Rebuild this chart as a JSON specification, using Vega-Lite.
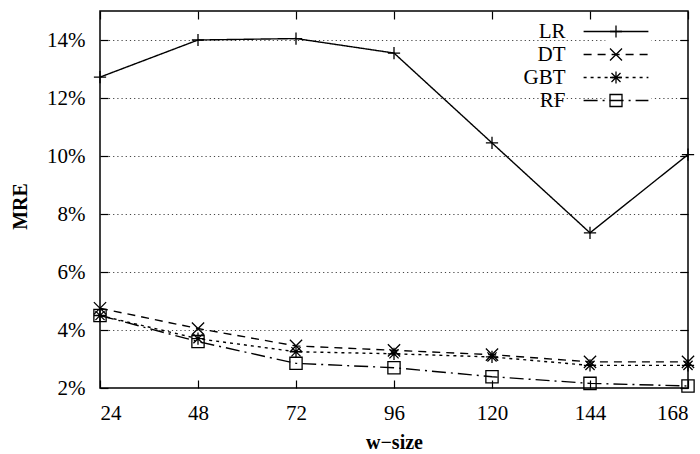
{
  "$schema": "https://vega.github.io/schema/vega-lite/v6.json",
  "width": 588,
  "height": 377,
  "autosize": "none",
  "padding": {"left": 100, "top": 11, "right": 12, "bottom": 66},
  "background": "white",
  "config": {
    "font": "Liberation Serif",
    "view": {"stroke": "black", "strokeWidth": 1.5},
    "axis": {
      "domain": false,
      "ticks": true,
      "labelFont": "Liberation Serif",
      "labelFontSize": 21,
      "labelColor": "black",
      "tickColor": "black",
      "tickWidth": 1.2,
      "tickSize": 8,
      "titleFont": "Liberation Serif",
      "titleFontSize": 20,
      "titleFontWeight": "bold",
      "titleColor": "black"
    }
  },
  "data": {
    "values": [
      {"series": "LR", "w": 24, "mre": 12.72},
      {"series": "LR", "w": 48, "mre": 14.0},
      {"series": "LR", "w": 72, "mre": 14.05},
      {"series": "LR", "w": 96, "mre": 13.55},
      {"series": "LR", "w": 120, "mre": 10.45},
      {"series": "LR", "w": 144, "mre": 7.35},
      {"series": "LR", "w": 168, "mre": 10.05},
      {"series": "DT", "w": 24, "mre": 4.75},
      {"series": "DT", "w": 48, "mre": 4.05},
      {"series": "DT", "w": 72, "mre": 3.45},
      {"series": "DT", "w": 96, "mre": 3.3},
      {"series": "DT", "w": 120, "mre": 3.15},
      {"series": "DT", "w": 144, "mre": 2.9},
      {"series": "DT", "w": 168, "mre": 2.9},
      {"series": "GBT", "w": 24, "mre": 4.5},
      {"series": "GBT", "w": 48, "mre": 3.7},
      {"series": "GBT", "w": 72, "mre": 3.25},
      {"series": "GBT", "w": 96, "mre": 3.18},
      {"series": "GBT", "w": 120, "mre": 3.07},
      {"series": "GBT", "w": 144, "mre": 2.78},
      {"series": "GBT", "w": 168, "mre": 2.78},
      {"series": "RF", "w": 24, "mre": 4.5},
      {"series": "RF", "w": 48, "mre": 3.6},
      {"series": "RF", "w": 72, "mre": 2.85},
      {"series": "RF", "w": 96, "mre": 2.7},
      {"series": "RF", "w": 120, "mre": 2.39},
      {"series": "RF", "w": 144, "mre": 2.16},
      {"series": "RF", "w": 168, "mre": 2.07}
    ]
  },
  "layer": [
    {
      "mark": {"type": "point", "opacity": 0},
      "encoding": {
        "x": {"field": "w", "type": "quantitative", "axis": null},
        "y": {"field": "mre", "type": "quantitative", "axis": {"orient": "left", "values": [4, 6, 8, 10, 12, 14], "labels": false, "ticks": false, "title": null, "grid": true, "gridColor": "#444", "gridDash": [1.2, 3], "gridWidth": 1}}
      }
    },
    {
      "mark": {"type": "line", "color": "black", "strokeWidth": 1.4},
      "encoding": {
        "x": {
          "field": "w", "type": "quantitative",
          "scale": {"domain": [24, 168], "nice": false, "zero": false},
          "axis": {"orient": "bottom", "offset": -8, "ticks": true, "values": [24, 48, 72, 96, 120, 144, 168], "title": "w\u2212size", "grid": false, "labelPadding": 14, "titleBaseline": "top", "titleY": 52}
        },
        "y": {
          "field": "mre", "type": "quantitative",
          "scale": {"domain": [2, 15], "nice": false, "zero": false},
          "axis": {"orient": "left", "offset": -8, "ticks": true, "values": [2, 4, 6, 8, 10, 12, 14], "labelExpr": "datum.value + '%'", "title": "MRE", "grid": false, "labelPadding": 15, "titleBaseline": "alphabetic", "titleX": -82, "titleY": 195}
        },
        "strokeDash": {
          "field": "series", "type": "nominal",
          "scale": {"domain": ["LR", "DT", "GBT", "RF"], "range": [[1, 0], [8, 6], [3, 4], [14, 5, 2, 5]]},
          "legend": {
            "orient": "none", "legendX": 505.5, "legendY": 10, "title": null,
            "symbolType": "M-5.4,0L5.4,0", "symbolSize": 144, "symbolStrokeColor": "black", "symbolStrokeWidth": 1.4,
            "labelAlign": "right", "labelOffset": -61, "labelFont": "Liberation Serif", "labelFontSize": 21, "labelColor": "black",
            "fillColor": "white", "padding": 0, "rowPadding": 1
          }
        }
      }
    },
    {
      "mark": {"type": "point", "filled": false, "stroke": "black", "strokeWidth": 1.3, "size": 150, "opacity": 1},
      "encoding": {
        "x": {"field": "w", "type": "quantitative", "axis": null},
        "y": {"field": "mre", "type": "quantitative", "axis": null},
        "shape": {
          "field": "series", "type": "nominal", "sort": ["LR", "DT", "GBT", "RF"],
          "scale": {"range": ["M-1,0L1,0M0,-1L0,1", "M-1,-1L1,1M-1,1L1,-1", "M-1,0L1,0M0,-1L0,1M-0.75,-0.75L0.75,0.75M-0.75,0.75L0.75,-0.75", "square"]},
          "legend": {
            "orient": "none", "legendX": 505.5, "legendY": 10, "title": null,
            "symbolSize": 144, "symbolStrokeColor": "black", "symbolStrokeWidth": 1.3, "symbolFillColor": "white",
            "labelExpr": "' '", "labelColor": "transparent", "labelFontSize": 21, "labelFont": "Liberation Serif",
            "padding": 0, "rowPadding": 1
          }
        }
      }
    },
    {
      "mark": {"type": "point", "opacity": 0},
      "encoding": {
        "x": {"field": "w", "type": "quantitative", "axis": {"orient": "top", "offset": -8, "ticks": true, "values": [24, 48, 72, 96, 120, 144, 168], "labels": false, "title": null, "grid": false}},
        "y": {"field": "mre", "type": "quantitative", "axis": {"orient": "right", "offset": -8, "ticks": true, "values": [2, 4, 6, 8, 10, 12, 14], "labels": false, "title": null, "grid": false}}
      }
    }
  ],
  "resolve": {"axis": {"x": "independent", "y": "independent"}}
}
